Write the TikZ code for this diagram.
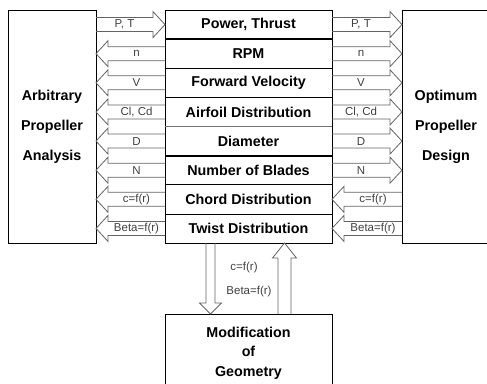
\documentclass[tikz,border=0pt]{standalone}
\usepackage{fontspec}
\setmainfont{Liberation Sans}
\usetikzlibrary{positioning,calc}
\definecolor{arrowgrey}{HTML}{646464}
\definecolor{labelgrey}{HTML}{404040}

% hollow block arrow: tail, tip, label
\newcommand{\shaftw}{7pt}
\newcommand{\headw}{13pt}
\newcommand{\headl}{12pt}
\newcommand{\hollowarrow}[3]{%
  \coordinate (hb) at ($(#2)!\headl!(#1)$);
  \draw[harr] ($(#1)!\shaftw!90:(#2)$) -- ($(hb)!\shaftw!-90:(#1)$)
    -- ($(hb)!\headw!-90:(#1)$) -- (#2) -- ($(hb)!\headw!90:(#1)$)
    -- ($(hb)!\shaftw!90:(#1)$) -- ($(#1)!\shaftw!-90:(#2)$);
  \path ($(#1)!0.5!(hb)$) node[lbl] {#3};
}

\begin{document}
\begin{tikzpicture}[x=1pt, y=-1pt,
    row/.style={draw, line width=0.7pt, minimum width=167pt, minimum height=29.125pt,
                inner sep=0pt, outer sep=0pt, font=\bfseries\fontsize{14.3}{17}\selectfont},
    sidebox/.style={draw, line width=0.7pt, minimum width=88pt, minimum height=233pt,
                align=center, outer sep=0pt, font=\bfseries\fontsize{14.3}{30}\selectfont},
    geobox/.style={draw, line width=0.7pt, minimum width=167pt, minimum height=78pt,
                align=center, outer sep=0pt, font=\bfseries\fontsize{14.3}{19.5}\selectfont},
    harr/.style={draw=arrowgrey, line width=0.8pt, line join=miter},
    lbl/.style={font=\fontsize{11.5}{12}\selectfont, text=labelgrey, inner sep=0pt},
    sep/.style={line width=1.8pt}]
  \useasboundingbox (0,0) rectangle (487,383);
  \clip (0,0) rectangle (487,383);

  % centre stack
  \node[row, anchor=north west] (pow) at (165,10) {Power, Thrust};
  \node[row, below=0pt of pow] (rpm) {RPM};
  \node[row, below=0pt of rpm] (vel) {Forward Velocity};
  \node[row, below=0pt of vel] (air) {Airfoil Distribution};
  \node[row, below=0pt of air] (dia) {Diameter};
  \node[row, below=0pt of dia] (bla) {Number of Blades};
  \node[row, below=0pt of bla] (cho) {Chord Distribution};
  \node[row, below=0pt of cho] (twi) {Twist Distribution};
  \draw[sep] (pow.south west) -- (pow.south east);
  \draw[sep, black!55] (air.south west) -- (air.south east);
  \draw[sep] (dia.south west) -- (dia.south east);

  \node[sidebox, left=69pt of pow.north west, anchor=north east] (ana) {Arbitrary\\Propeller\\Analysis};
  \node[sidebox, right=70pt of pow.north east, anchor=north west] (des) {Optimum\\Propeller\\Design};
  \node[geobox, below=71pt of twi] (geo) {Modification\\of\\Geometry};

  % left side
  \hollowarrow{ana.east |- pow}{pow.west}{P, T}
  \hollowarrow{rpm.west}{ana.east |- rpm}{n}
  \hollowarrow{vel.west}{ana.east |- vel}{V}
  \hollowarrow{air.west}{ana.east |- air}{Cl, Cd}
  \hollowarrow{dia.west}{ana.east |- dia}{D}
  \hollowarrow{bla.west}{ana.east |- bla}{N}
  \hollowarrow{cho.west}{ana.east |- cho}{c=f(r)}
  \hollowarrow{twi.west}{ana.east |- twi}{Beta=f(r)}

  % right side
  \hollowarrow{pow.east}{des.west |- pow}{P, T}
  \hollowarrow{rpm.east}{des.west |- rpm}{n}
  \hollowarrow{vel.east}{des.west |- vel}{V}
  \hollowarrow{air.east}{des.west |- air}{Cl, Cd}
  \hollowarrow{dia.east}{des.west |- dia}{D}
  \hollowarrow{bla.east}{des.west |- bla}{N}
  \hollowarrow{des.west |- cho}{cho.east}{c=f(r)}
  \hollowarrow{des.west |- twi}{twi.east}{Beta=f(r)}

  % loop through geometry
  \coordinate (dn) at ([xshift=-38pt]twi.south);
  \coordinate (up) at ([xshift=36pt]geo.north);
  {\renewcommand{\shaftw}{4.5pt}\renewcommand{\headw}{11pt}\renewcommand{\headl}{11pt}
   \hollowarrow{dn}{dn |- geo.north}{}}
  {\renewcommand{\shaftw}{6.5pt}\renewcommand{\headw}{12pt}\renewcommand{\headl}{15pt}
   \hollowarrow{up}{up |- twi.south}{}}
  \node[lbl] (cf) at (244,268) {c=f(r)};
  \node[lbl] (bf) at (249,292) {Beta=f(r)};
\end{tikzpicture}
\end{document}
